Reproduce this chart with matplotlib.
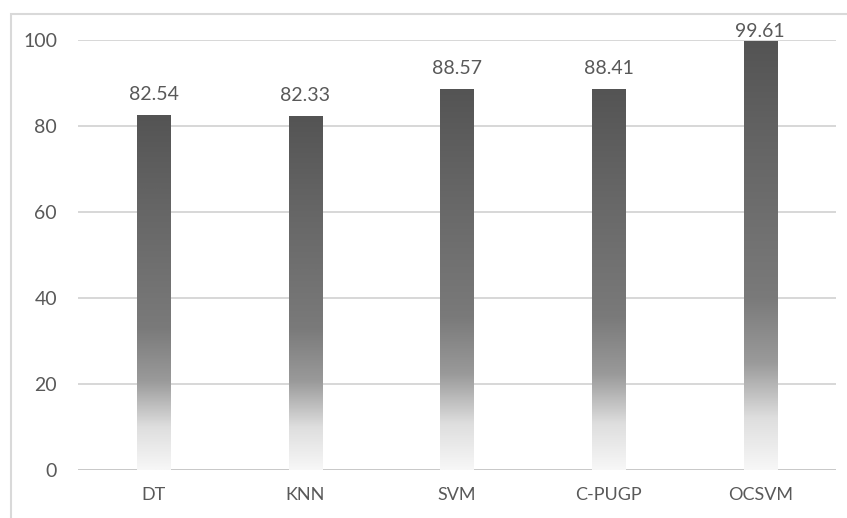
import numpy as np
import matplotlib
matplotlib.use("Agg")
import matplotlib.pyplot as plt
from matplotlib.colors import LinearSegmentedColormap
from matplotlib.patches import Rectangle

methods = ["DT", "KNN", "SVM", "C-PUGP", "OCSVM"]
scores = [82.54, 82.33, 88.57, 88.41, 99.61]
yticks = [0, 20, 40, 60, 80, 100]

plt.rcParams['font.family'] = ['Lato', 'DejaVu Sans']
text_color = "#595959"

# grey fill fading to white at the foot of each bar
fade = LinearSegmentedColormap.from_list(
    "fade",
    [(0.0, "#f7f7f7"), (0.12, "#dedede"), (0.25, "#9a9a9a"),
     (0.4, "#7a7a7a"), (0.75, "#656565"), (1.0, "#545454")])

fig = plt.figure(figsize=(8.47, 5.18), dpi=100)
ax = fig.add_axes([0.092, 0.0927, 0.895, 0.83])

x = np.arange(len(methods))
width = 0.22
grad = np.linspace(0, 1, 256).reshape(-1, 1)

for xi, val in zip(x, scores):
    ax.imshow(grad, cmap=fade, origin="lower", aspect="auto",
              extent=[xi - width / 2, xi + width / 2, 0, val], zorder=3)
    # labels near the top of the axis get squeezed down onto the bar
    off = 9 if val < 95 else 1
    ax.annotate(f"{val:.2f}", (xi, val), xytext=(0, off), textcoords="offset points",
                ha="center", va="bottom", fontsize=14, color=text_color, zorder=4)

ax.set_xlim(-0.5, len(methods) - 0.5)
ax.set_ylim(0, 100)
ax.set_yticks(yticks)
ax.set_xticks(x)
ax.set_xticklabels(methods)
ax.grid(axis="y", color="#d4d4d4", linewidth=1.3, zorder=0)
ax.set_axisbelow(True)
for s in ax.spines.values():
    s.set_visible(False)
ax.axhline(0, color="#c8c8c8", linewidth=1.3, zorder=2)
ax.tick_params(axis="y", length=0, pad=15, labelsize=14, labelcolor=text_color)
ax.tick_params(axis="x", length=0, pad=12, labelsize=13, labelcolor=text_color)

# light frame round the chart area
fig.patches.append(Rectangle((11 / 847, -0.1), 1.2, 1.1 - 14 / 518,
                             transform=fig.transFigure, fill=False,
                             edgecolor="#d9d9d9", linewidth=1.5))

fig.savefig("out.png", dpi=100)
